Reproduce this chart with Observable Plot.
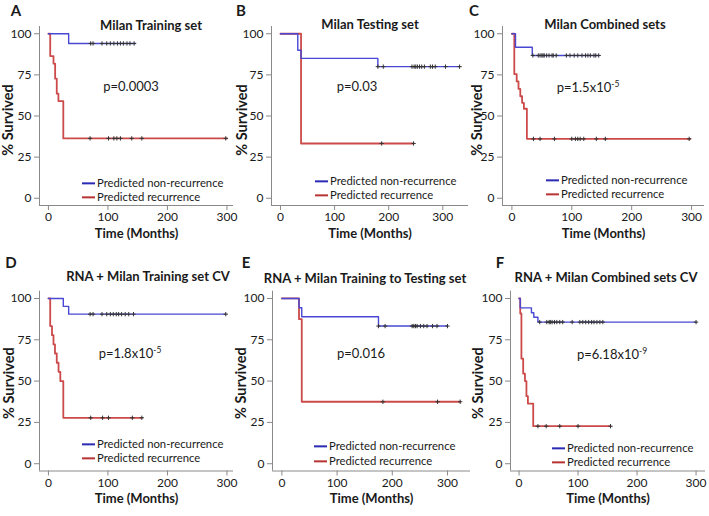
<!DOCTYPE html>
<html><head><meta charset="utf-8">
<script src="https://cdn.jsdelivr.net/npm/d3@7"></script>
<script src="https://cdn.jsdelivr.net/npm/@observablehq/plot@0.6"></script>
<style>
body{margin:0;background:#fff;font-family:Lato,"Open Sans",sans-serif;color:#1a1a1a;}
#wrap{position:relative;width:709px;height:516px;overflow:hidden;background:#fff;}
.panel{position:absolute;}
.lbl{position:absolute;white-space:nowrap;line-height:1;color:#1a1a1a;}
.letter{font-weight:bold;font-size:15px;transform:translate(-50%,-50%);}
.title{font-weight:bold;font-size:13px;transform:translate(-50%,-50%);}
.pval{font-size:13px;transform:translate(-50%,-50%);}
.pval sup{font-size:8.5px;vertical-align:5px;line-height:0;}
.leg{font-size:11.3px;transform:translateY(-50%);display:flex;align-items:center;}
.leg .sw{display:inline-block;width:13px;height:0;border-top:2px solid;margin-right:2px;}
</style></head>
<body><div id="wrap"></div>
<script>
// ---------- data ----------
const letters = ["A", "B", "C", "D", "E", "F"];
const titles = ["Milan Training set", "Milan Testing set", "Milan Combined sets",
  "RNA + Milan Training set CV", "RNA + Milan Training to Testing set", "RNA + Milan Combined sets CV"];
const pBase = ["p=0.0003", "p=0.03", "p=1.5x10", "p=1.8x10", "p=0.016", "p=6.18x10"];
const pExp  = ["", "", "-5", "-5", "", "-9"];
const seriesNames = ["Predicted non-recurrence", "Predicted recurrence"];
const xLabel = "Time (Months)";
const yLabel = "% Survived";
const xTicks = [0, 100, 200, 300];
const yTicks = [0, 25, 50, 75, 100];

// A – Milan Training set
const A_non_t = [0, 34, 146];
const A_non_s = [100, 94.1, 94.1];
const A_non_c = [71, 75, 90, 98, 104, 110, 116, 121, 126, 132, 137, 144];
const A_rec_t = [0, 3, 8.5, 11.3, 14, 16.8, 25, 300];
const A_rec_s = [100, 86.4, 81.8, 72.7, 63.6, 59.1, 36.4, 36.4];
const A_rec_c = [70, 101, 110, 115, 121, 140, 157, 298];
// B – Milan Testing set
const B_non_t = [0, 32, 38, 180, 331];
const B_non_s = [100, 90, 85, 80, 80];
const B_non_c = [180, 190, 243, 247, 250, 253, 257, 261, 266, 277, 281, 286, 305, 331];
const B_rec_t = [0, 38, 246];
const B_rec_s = [100, 33.3, 33.3];
const B_rec_c = [187, 246];
// C – Milan Combined sets
const C_non_t = [0, 6, 34, 145];
const C_non_s = [100, 91.8, 86.8, 86.8];
const C_non_c = [35, 44, 47, 50, 52, 54, 58, 62, 67, 69, 74, 91, 97, 104, 110, 117, 123, 127, 131, 137, 140, 145];
const C_rec_t = [0, 4, 8, 11, 14, 17, 20, 25, 298];
const C_rec_s = [100, 75.5, 71, 66.5, 62, 58, 54.4, 36.1, 36.1];
const C_rec_c = [36, 47, 71, 100, 106, 110, 114, 120, 141, 156, 296];
// D – RNA + Milan Training set CV
const D_non_t = [0, 25, 34, 298];
const D_non_s = [100, 95.2, 90.5, 90.5];
const D_non_c = [70, 75, 90, 98, 104, 109, 114, 118, 123, 129, 135, 143, 298];
const D_rec_t = [0, 3, 6, 8.5, 11, 14, 17, 20, 25, 157];
const D_rec_s = [100, 83.3, 77.8, 72.2, 66.7, 61.1, 55.6, 50, 27.8, 27.8];
const D_rec_c = [71, 91, 101, 141, 157];
// E – RNA + Milan Training to Testing set
const E_non_t = [0, 31, 36, 175, 300];
const E_non_s = [100, 94.4, 88.9, 83.3, 83.3];
const E_non_c = [175, 187, 236, 239, 242, 245, 251, 257, 263, 273, 281, 300];
const E_rec_t = [0, 31, 36, 323];
const E_rec_s = [100, 87.5, 37.5, 37.5];
const E_rec_c = [183, 282, 323];
// F – RNA + Milan Combined sets CV
const F_non_t = [0, 2, 21, 25, 32, 300];
const F_non_s = [100, 94.3, 91.4, 88.6, 85.7, 85.7];
const F_non_c = [35, 47, 51, 53, 56, 60, 64, 69, 74, 90, 103, 108, 113, 118, 123, 127, 132, 137, 142, 300];
const F_rec_t = [0, 2, 4, 7, 10, 12.5, 15, 24, 155];
const F_rec_s = [100, 90.9, 63.6, 54.5, 50, 40.9, 36.4, 22.7, 22.7];
const F_rec_c = [32, 46, 69, 100, 155];

const panels = [
  {nonT: A_non_t, nonS: A_non_s, nonC: A_non_c, recT: A_rec_t, recS: A_rec_s, recC: A_rec_c},
  {nonT: B_non_t, nonS: B_non_s, nonC: B_non_c, recT: B_rec_t, recS: B_rec_s, recC: B_rec_c},
  {nonT: C_non_t, nonS: C_non_s, nonC: C_non_c, recT: C_rec_t, recS: C_rec_s, recC: C_rec_c},
  {nonT: D_non_t, nonS: D_non_s, nonC: D_non_c, recT: D_rec_t, recS: D_rec_s, recC: D_rec_c},
  {nonT: E_non_t, nonS: E_non_s, nonC: E_non_c, recT: E_rec_t, recS: E_rec_s, recC: E_rec_c},
  {nonT: F_non_t, nonS: F_non_s, nonC: F_non_c, recT: F_rec_t, recS: F_rec_s, recC: F_rec_c}
];

// ---------- layout & style ----------
const BLUE = "#4848d4", RED = "#cc4a4a", LEG_BLUE = "#2a2ab4", LEG_RED = "#b83434", AXIS = "#8a8a8a";
const yDomain = [-4.4, 104.4];
const layout = [
  {left: 0,   top: 0,   w: 236, h: 250, mL: 39, mR: 3, mT: 26,   mB: 45,   xd: [-15, 311],     ylx: -31, yly: 4},
  {left: 236, top: 0,   w: 236, h: 250, mL: 35, mR: 4, mT: 26,   mB: 45,   xd: [-16.6, 347.5], ylx: -29, yly: 4},
  {left: 472, top: 0,   w: 237, h: 250, mL: 30, mR: 5, mT: 26,   mB: 45,   xd: [-15.7, 321.6], ylx: -25, yly: 4},
  {left: 0,   top: 258, w: 236, h: 258, mL: 39, mR: 3, mT: 32.7, mB: 45.5, xd: [-15, 311],     ylx: -30, yly: 2},
  {left: 236, top: 258, w: 236, h: 258, mL: 36, mR: 2, mT: 32.7, mB: 45.5, xd: [-17, 341.7],   ylx: -31, yly: 2},
  {left: 472, top: 258, w: 237, h: 258, mL: 38, mR: 4, mT: 32.7, mB: 45.5, xd: [-14.5, 316],   ylx: -32, yly: 2}
];
const letterPos = [[16, 10], [241, 10], [474, 10], [11, 262], [246, 262], [500, 262]];
const titlePos  = [[151, 25], [370, 24], [605, 24], [148, 276], [365, 278], [606, 277]];
const pPos      = [[131, 86], [357, 86], [588, 87], [130, 353], [361, 353], [612, 354]];
const legPos    = [[82, 183, 197], [315, 181, 195], [546, 180, 194], [82, 444, 458], [314, 446, 461], [552, 448, 462]];

function stepAt(T, S, t) { let v = S[0]; for (let i = 0; i < T.length; i++) if (T[i] <= t) v = S[i]; return v; }

const wrap = document.getElementById("wrap");
panels.forEach((d, i) => {
  const L = layout[i];
  const non = d.nonT.map((t, j) => ({t, s: d.nonS[j]}));
  const rec = d.recT.map((t, j) => ({t, s: d.recS[j]}));
  const cens = [
    ...d.nonC.map(t => ({t, s: stepAt(d.nonT, d.nonS, t)})),
    ...d.recC.map(t => ({t, s: stepAt(d.recT, d.recS, t)}))
  ];
  const svg = Plot.plot({
    width: L.w, height: L.h,
    marginLeft: L.mL, marginRight: L.mR, marginTop: L.mT, marginBottom: L.mB,
    style: {fontFamily: "Lato, sans-serif", fontSize: "12px", color: "#1a1a1a", background: "transparent", overflow: "visible"},
    x: {domain: L.xd},
    y: {domain: yDomain},
    marks: [
      Plot.ruleX([L.xd[0]], {stroke: AXIS, strokeWidth: 1}),
      Plot.ruleY([yDomain[0]], {stroke: AXIS, strokeWidth: 1}),
      Plot.axisX({ticks: xTicks, tickSize: 5, tickPadding: 2, stroke: AXIS, fill: "#1a1a1a", label: null}),
      Plot.axisY({ticks: yTicks, tickSize: 5, tickPadding: 3, stroke: AXIS, fill: "#1a1a1a", label: null}),
      Plot.line(rec, {x: "t", y: "s", curve: "step-after", stroke: RED, strokeWidth: 1.8}),
      Plot.line(non, {x: "t", y: "s", curve: "step-after", stroke: BLUE, strokeWidth: 1.4}),
      Plot.dot(cens, {x: "t", y: "s", symbol: "plus", r: 1.5, stroke: "#333", strokeWidth: 1}),
      Plot.text([xLabel], {frameAnchor: "bottom", lineAnchor: "middle", textAnchor: "middle", dy: 28, fontWeight: "bold", fontSize: 13, fill: "#1a1a1a"}),
      Plot.text([yLabel], {frameAnchor: "left", lineAnchor: "middle", textAnchor: "middle", dx: L.ylx, dy: L.yly, rotate: -90, fontWeight: "bold", fontSize: 14.5, fill: "#1a1a1a"})
    ]
  });
  const holder = document.createElement("div");
  holder.className = "panel";
  holder.style.left = L.left + "px";
  holder.style.top = L.top + "px";
  holder.appendChild(svg);
  wrap.appendChild(holder);

  const add = (cls, x, y, html) => {
    const e = document.createElement("div");
    e.className = "lbl " + cls;
    e.style.left = x + "px"; e.style.top = y + "px";
    e.innerHTML = html;
    wrap.appendChild(e);
  };
  add("letter", letterPos[i][0], letterPos[i][1], letters[i]);
  add("title", titlePos[i][0], titlePos[i][1], titles[i]);
  add("pval", pPos[i][0], pPos[i][1], pBase[i] + (pExp[i] ? "<sup>" + pExp[i] + "</sup>" : ""));
  add("leg", legPos[i][0], legPos[i][1], `<span class="sw" style="border-color:${LEG_BLUE}"></span>${seriesNames[0]}`);
  add("leg", legPos[i][0], legPos[i][2], `<span class="sw" style="border-color:${LEG_RED}"></span>${seriesNames[1]}`);
});
</script></body></html>
